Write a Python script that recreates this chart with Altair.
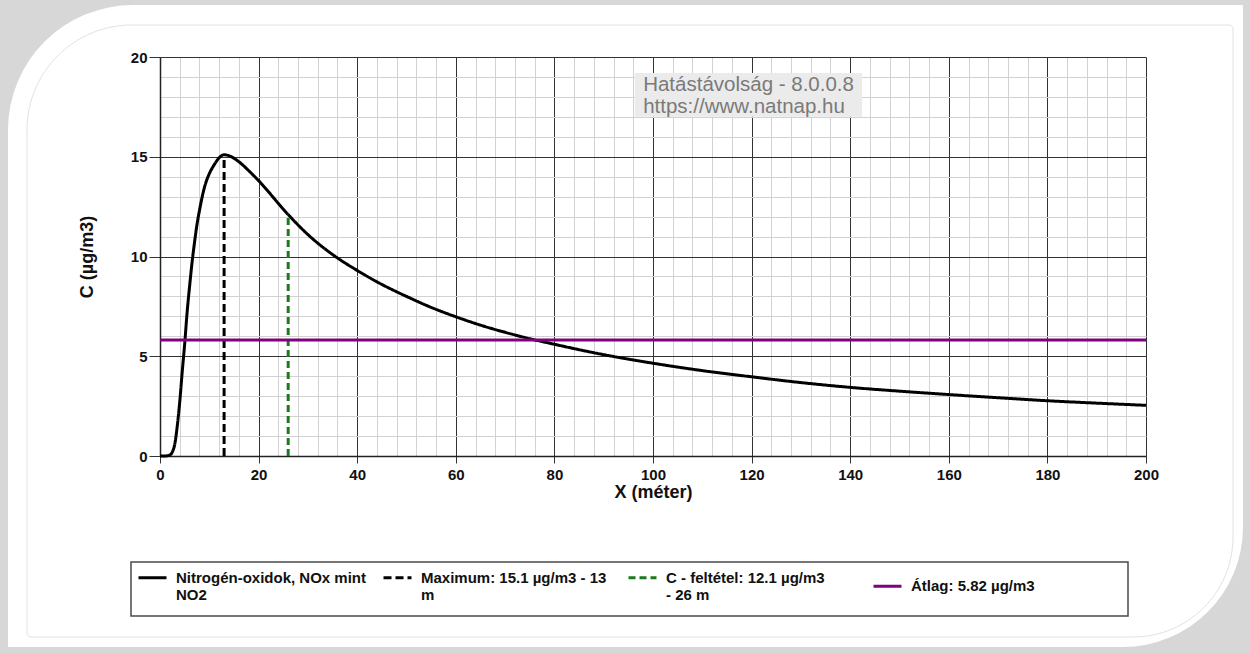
import altair as alt
import pandas as pd

FONT = "Liberation Sans"

# ---------------- data ----------------
curve_x = [0, 1, 2, 2.5, 3, 3.5, 4, 4.5, 5, 5.5, 6, 6.5, 7, 7.5, 8, 9, 10, 11, 12, 13,
           14, 16, 18, 20, 26, 30, 35, 40, 45, 50, 55, 60, 65, 70, 75, 80, 85,
           90, 100, 110, 120, 130, 140, 150, 160, 170, 180, 190, 200]
curve_c = [0, 0, 0.05, 0.2, 0.6, 1.5, 2.7, 4.2, 5.6, 7.2, 8.5, 9.7, 10.7, 11.6, 12.3, 13.45, 14.15, 14.6, 14.95, 15.1,
           15.05, 14.75, 14.3, 13.8, 12.1, 11.1, 10.1, 9.3, 8.6, 8.0, 7.45, 6.98, 6.56, 6.2, 5.88, 5.6, 5.33,
           5.08, 4.65, 4.28, 3.97, 3.68, 3.44, 3.25, 3.08, 2.92, 2.77, 2.65, 2.54]

max_x, max_c = 13, 15.1
cond_x, cond_c = 26, 12.1
avg_c = 5.82
x_min, x_max = 0, 200
y_min, y_max = 0, 20

series_names = [
    "Nitrogén-oxidok, NOx mint|NO2",
    "Maximum: 15.1 µg/m3 - 13|m",
    "C - feltétel: 12.1 µg/m3|- 26 m",
    "Átlag: 5.82 µg/m3",
]
series_colors = ["#000000", "#000000", "#1c7a1c", "#800080"]
series_dashes = [[1, 0], [8, 4], [7, 4], [1, 0]]

watermark_lines = ["Hatástávolság - 8.0.0.8", "https://www.natnap.hu"]

# ---------------- tables ----------------
curve_df = pd.DataFrame({"x": curve_x, "c": curve_c, "series": series_names[0]})
ref_df = pd.DataFrame({
    "x": [max_x, max_x, cond_x, cond_x, x_min, x_max],
    "c": [0, max_c, 0, cond_c, avg_c, avg_c],
    "series": [series_names[1]] * 2 + [series_names[2]] * 2 + [series_names[3]] * 2,
    "ord": [0, 1, 0, 1, 0, 1],
})
wm_text_df = pd.DataFrame({"x": [98.0, 98.0], "c": [18.32, 17.19], "t": watermark_lines})
wm_box_df = pd.DataFrame({"x": [96.3], "x2": [142.4], "c": [19.2], "c2": [17.0]})
dummy = pd.DataFrame({"d": [0]})

# ---------------- axes ----------------
major_x = "datum.value % 20 === 0"
major_y = "datum.value % 5 === 0"

axis_x = alt.Axis(
    values=list(range(0, 201, 4)),
    labelExpr=f"{major_x} ? datum.label : ''",
    labelOverlap=False, labelFlush=False,
    grid=True,
    gridColor={"condition": {"test": major_x, "value": "#333333"}, "value": "#d2d2d2"},
    tickOpacity={"condition": {"test": major_x, "value": 1}, "value": 0},
    tickColor="#333333", tickSize=7, domainColor="#222222", domainWidth=1.5,
    labelFont=FONT, labelFontSize=15, labelFontWeight="bold", labelColor="#111111", labelPadding=4,
    title="X (méter)", titleFont=FONT, titleFontSize=18, titleFontWeight="bold", titleColor="#111111",
    titlePadding=1,
)
axis_y = alt.Axis(
    values=list(range(0, 21, 1)),
    labelExpr=f"{major_y} ? datum.label : ''",
    labelOverlap=False, labelFlush=False,
    grid=True,
    gridColor={"condition": {"test": major_y, "value": "#333333"}, "value": "#d2d2d2"},
    tickOpacity={"condition": {"test": major_y, "value": 1}, "value": 0},
    tickColor="#333333", tickSize=11, domainColor="#222222", domainWidth=1.5,
    labelFont=FONT, labelFontSize=15, labelFontWeight="bold", labelColor="#111111", labelPadding=2,
    title="C (µg/m3)", titleFont=FONT, titleFontSize=18, titleFontWeight="bold", titleColor="#111111",
    titlePadding=34,
)
xs = alt.Scale(domain=[x_min, x_max], nice=False, zero=False)
ys = alt.Scale(domain=[y_min, y_max], nice=False, zero=False)


def X(field="x"):
    return alt.X(f"{field}:Q", scale=xs, axis=axis_x)


def Y(field="c"):
    return alt.Y(f"{field}:Q", scale=ys, axis=axis_y)


legend = alt.Legend(
    title=None, orient="none", legendX=-23, legendY=505, direction="horizontal", columns=4,
    gridAlign="all", symbolType="stroke", symbolSize=784, symbolStrokeWidth=3,
    labelFont=FONT, labelFontSize=15, labelFontWeight="bold", labelColor="#111111",
    labelLimit=500, labelOffset=8,
    labelExpr="split(datum.label, '|')",
    padding=0, columnPadding=10,
)
color_enc = alt.Color("series:N", scale=alt.Scale(domain=series_names, range=series_colors), legend=legend)
dash_enc = alt.StrokeDash("series:N", scale=alt.Scale(domain=series_names, range=series_dashes), legend=legend)

# ---------------- decorations (page card, legend frame) ----------------
GRAY = "#d7d7d7"
strips = [
    (-160, 1090, -57, -52),
    (-160, -152, -57, 596),
    (1083, 1090, -57, 596),
    (-160, 1090, 590, 596),
]
deco = []
for (a, b, c, d) in strips:
    deco.append(alt.Chart(dummy).mark_rect(color=GRAY).encode(
        x=alt.value(a), x2=alt.value(b), y=alt.value(c), y2=alt.value(d)))
deco.append(alt.Chart(dummy).mark_arc(color=GRAY, theta=4.7124, theta2=6.2832, radius=200, radius2=125).encode(
    x=alt.value(-27), y=alt.value(73)))
deco.append(alt.Chart(dummy).mark_arc(color=GRAY, theta=1.5708, theta2=3.1416, radius=190, radius2=120).encode(
    x=alt.value(963), y=alt.value(470)))
deco.append(alt.Chart(dummy).mark_rect(filled=False, stroke="#e2e2e2", strokeWidth=1,
                                       cornerRadiusTopLeft=105, cornerRadiusBottomRight=100,
                                       cornerRadiusTopRight=4, cornerRadiusBottomLeft=4).encode(
    x=alt.value(-133), x2=alt.value(1073), y=alt.value(-32), y2=alt.value(580)))
deco.append(alt.Chart(dummy).mark_rect(filled=False, stroke="#4a4a4a", strokeWidth=1.5).encode(
    x=alt.value(-29), x2=alt.value(968), y=alt.value(505), y2=alt.value(559)))

# ---------------- data layers ----------------
curve = alt.Chart(curve_df).mark_line(strokeWidth=3, interpolate="monotone").encode(
    x=X(), y=Y(), color=color_enc, strokeDash=dash_enc)
refs = alt.Chart(ref_df).mark_line(strokeWidth=3).encode(
    x=X(), y=Y(), color=color_enc, strokeDash=dash_enc, detail="series:N", order="ord:Q")
wm_box = alt.Chart(wm_box_df).mark_rect(color="#ebebeb").encode(
    x=X(), x2="x2:Q", y=Y(), y2="c2:Q")
wm_text = alt.Chart(wm_text_df).mark_text(
    align="left", baseline="alphabetic", font=FONT, fontSize=20.5, color="#7a7a7a").encode(
    x=X(), y=Y(), text="t:N")

chart = alt.layer(*deco, curve, refs, wm_box, wm_text).properties(
    width=986, height=399,
    padding={"left": 160, "top": 57, "right": 104, "bottom": 197},
    autosize=alt.AutoSizeParams(type="none"),
    background="white",
).configure_view(strokeWidth=0)

chart.save("out.html", embed_options={"renderer": "svg", "actions": False})
